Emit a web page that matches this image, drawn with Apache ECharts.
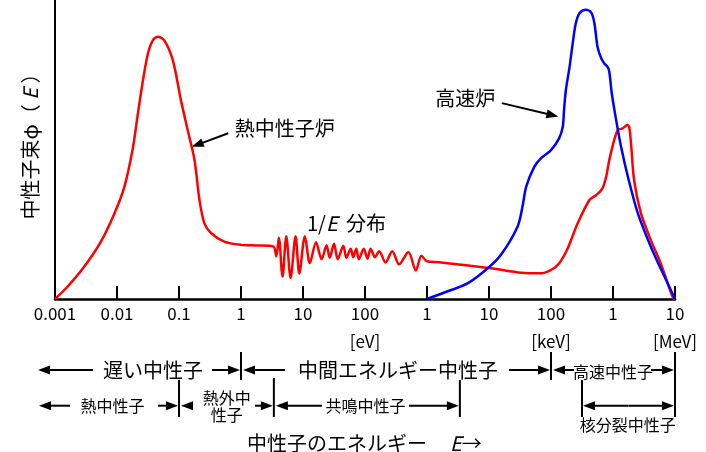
<!DOCTYPE html>
<html><head><meta charset="utf-8">
<script src="https://cdn.jsdelivr.net/npm/echarts@6/dist/echarts.min.js"></script>
<style>html,body{margin:0;padding:0;background:#fff}#c{width:706px;height:452px}</style>
</head><body><div id="c"></div>
<script>
const FONT = '"Noto Sans CJK JP", "Noto Sans", sans-serif';

// x values are log10(E / eV)
const tickLabels = ['0.001','0.01','0.1','1','10','100','1','10','100','1','10'];
const tickUnits  = ['','','','','','[eV]','','','[keV]','','[MeV]'];

// 熱中性子炉 (thermal reactor) spectrum
const thermalLogE = [-3.00,-2.80,-2.53,-2.26,-2.04,-1.88,-1.75,-1.67,-1.59,-1.50,
  -1.42,-1.34,-1.24,-1.10,-0.97,-0.86,-0.75,-0.67,-0.59,-0.48,
  -0.27,0.00,0.24,0.52,
  0.57,0.61,0.67,0.73,0.80,0.88,0.94,1.03,1.11,1.21,
  1.30,1.38,1.43,1.50,1.56,1.65,1.70,1.77,1.81,1.86,
  1.90,1.98,2.04,2.09,2.16,2.23,2.33,2.44,2.55,2.70,
  2.82,2.91,3.00,3.19,
  4.03,4.52,4.84,5.00,5.13,5.27,5.43,5.62,5.73,5.83,
  5.89,5.94,6.02,6.08,6.16,6.23,6.26,6.29,6.34,6.45,
  6.61,6.77,6.96,7.00];
const thermalFlux = [0,4.1,10.8,19.2,28.7,37.6,49.8,61.0,72.1,82.2,
  86.6,87.7,86.6,79.9,66.6,56.5,46.5,33.1,25.3,22.0,
  19.2,18.1,17.9,17.6,
  14.3,20.5,7.5,21.0,7.0,21.0,8.5,21.0,12.0,19.0,
  13.3,18.0,13.8,18.5,13.3,17.8,13.8,16.8,14.0,16.8,
  13.3,16.8,13.5,16.8,14.0,16.0,12.2,16.0,11.6,15.7,
  9.5,14.5,12.6,12.3,
  10.3,8.8,8.6,9.7,11.9,17.0,25.3,33.1,34.8,37.0,
  40.9,46.5,53.2,56.5,57.1,58.2,57.6,52.1,39.8,28.7,
  19.7,11.9,0.8,0];

// 高速炉 (fast reactor) spectrum
const fastLogE = [3.00,3.39,3.66,3.98,4.19,4.46,4.54,4.60,4.73,4.84,
  5.00,5.13,5.19,5.21,5.24,5.30,5.35,5.40,5.46,5.56,
  5.65,5.70,5.75,5.81,5.86,5.91,5.94,5.98,6.05,6.13,
  6.24,6.40,6.61,6.83,7.00];
const fastFlux = [0,3.0,5.3,10.3,14.7,24.2,30.9,37.6,44.2,47.1,
  49.8,53.7,57.6,63.2,69.9,77.7,85.5,92.2,95.6,96.7,
  95.8,92.2,84.4,80.5,78.8,77.7,76.0,68.8,59.9,50.9,
  40.9,28.7,17.5,7.5,0];

// energy range boundaries (log10 eV)
const edgeMin = -3, edgeThermal = -1, edgeSlow = 0, edgeResStart = 0.53,
      edgeResEnd = 3.53, edgeFast = 5, edgeFission = 5.5, edgeMax = 7;

// callout anchor points on the curves [log10E, flux]
const thermalCallout = [-0.795, 50.9];
const fastCallout = [5.118, 61.0];

const zip = (xs, ys) => xs.map((x, i) => [x, ys[i]]);

const chart = echarts.init(document.getElementById('c'), null, {renderer: 'canvas'});
chart.setOption({
  animation: false,
  grid: {left: 55, right: 31, top: 0, bottom: 153},
  xAxis: {
    type: 'value', min: edgeMin, max: edgeMax, interval: 1,
    axisLine: {onZero: false, lineStyle: {color: '#000', width: 2.5}},
    axisTick: {inside: true, length: 13, lineStyle: {color: '#000', width: 2}},
    splitLine: {show: false},
    axisLabel: {
      margin: 1, color: '#000', fontSize: 17, fontFamily: FONT, lineHeight: 28,
      showMinLabel: true, showMaxLabel: true,
      formatter: v => { const i = Math.round(v - edgeMin); return tickLabels[i] + (tickUnits[i] ? '\n' + tickUnits[i] : ''); }
    }
  },
  yAxis: {
    type: 'value', min: 0, max: 100,
    axisLine: {show: true, onZero: false, lineStyle: {color: '#000', width: 2}},
    axisTick: {show: false}, axisLabel: {show: false}, splitLine: {show: false}
  },
  series: [
    {type: 'line', data: zip(thermalLogE, thermalFlux), smooth: 0.3, symbol: 'none',
     lineStyle: {color: '#ff0000', width: 2.5}, z: 2},
    {type: 'line', data: zip(fastLogE, fastFlux), smooth: 0.3, symbol: 'none',
     lineStyle: {color: '#0000ff', width: 2.5}, z: 3}
  ]
});

const els = [];
function seg(x1, y1, x2, y2, w) {
  els.push({type: 'line', silent: true, shape: {x1, y1, x2, y2}, style: {stroke: '#000', lineWidth: w || 2}});
}
function arrow(x1, y1, x2, y2) {
  const dx = x2 - x1, dy = y2 - y1, L = Math.hypot(dx, dy), ux = dx / L, uy = dy / L;
  const hl = 12, hw = 4.5;
  const bx = x2 - ux * hl, by = y2 - uy * hl;
  seg(x1, y1, x2 - ux * (hl - 2), y2 - uy * (hl - 2), 2);
  els.push({type: 'polygon', silent: true,
    shape: {points: [[x2, y2], [bx - uy * hw, by + ux * hw], [bx + uy * hw, by - ux * hw]]},
    style: {fill: '#000'}});
}
function text(str, x, y, size, align, extra) {
  els.push({type: 'text', silent: true, x, y, style: Object.assign({
    text: str, fontSize: size, fontFamily: FONT, fill: '#000',
    align: align || 'center', verticalAlign: 'middle',
    textAlign: align || 'center', textVerticalAlign: 'middle'
  }, extra || {})});
}
const xAt = v => chart.convertToPixel({xAxisIndex: 0}, v);
const italic = s => ({rich: {i: {fontStyle: 'italic', fontSize: s, fontFamily: FONT}}});

// y axis name
els.push({type: 'text', silent: true, x: 30, y: 141.5, rotation: Math.PI / 2,
  style: Object.assign({text: '中性子束φ（ {i|E} ）', fontSize: 20, fontFamily: FONT, fill: '#000',
    align: 'center', verticalAlign: 'middle', textAlign: 'center', textVerticalAlign: 'middle'}, italic(20))});

// curve callouts
const tp = chart.convertToPixel({gridIndex: 0}, thermalCallout);
arrow(tp[0] + 36.5, tp[1] - 13.5, tp[0], tp[1]);
text('熱中性子炉', tp[0] + 43, tp[1] - 18, 20, 'left');
const fp = chart.convertToPixel({gridIndex: 0}, fastCallout);
arrow(fp[0] - 56.5, fp[1] - 13.5, fp[0], fp[1]);
text('高速炉', fp[0] - 123, fp[1] - 18, 20, 'left');
text('1/{i|E}', 307, 223, 20, 'left', italic(20));
text('分布', 346, 223, 20, 'left');

// energy range annotations
const x0 = xAt(edgeMin), xT = xAt(edgeThermal), xS = xAt(edgeSlow), xRs = xAt(edgeResStart),
      xRe = xAt(edgeResEnd), xF = xAt(edgeFast), xFi = xAt(edgeFission), xM = xAt(edgeMax);
const r1 = 370, r2 = 405.7;
// bars
seg(xS, 352, xS, 380); seg(xF, 352, xF, 380); seg(xM, 352, xM, 417);
seg(xT, 380, xT, 417); seg(xRs, 378, xRs, 417); seg(xRe, 380, xRe, 417); seg(xFi, 380, xFi, 417);
// row 1
arrow(x0 + 38, r1, x0 - 17, r1);
text('遅い中性子', 153, r1, 20);
arrow(212, r1, xS - 1, r1);
arrow(285, r1, xS + 2, r1);
text('中間エネルギー中性子', 398, r1, 20);
arrow(509, r1, xF - 1, r1);
arrow(574, r1, xF + 2, r1);
text('高速中性子', (xF + xM) / 2, r1 + 1.5, 16);
arrow(651, r1, xM - 1, r1);
// row 2
arrow(70, r2, x0 - 16, r2);
text('熱中性子', 112.5, r2, 16);
arrow(158, r2, xT - 1, r2);
arrow(193, r2, xT + 2, r2);
text('熱外中\n性子', 226.7, 406.5, 16, 'center', {lineHeight: 17});
arrow(255, r2, xRs - 1, r2);
arrow(322, r2, xRs + 2, r2);
text('共鳴中性子', 365.5, r2, 16);
arrow(409, r2, xRe - 1, r2);
arrow((xFi + xM) / 2, r2, xFi + 1, r2);
arrow((xFi + xM) / 2, r2, xM - 1, r2);
text('核分裂中性子', 627.7, 425, 16);
// axis title
text('中性子のエネルギー', 247, 443, 20, 'left');
text('{i|E}→', 450, 443, 20, 'left', italic(20));

chart.setOption({graphic: {elements: els}});
</script>
</body></html>
